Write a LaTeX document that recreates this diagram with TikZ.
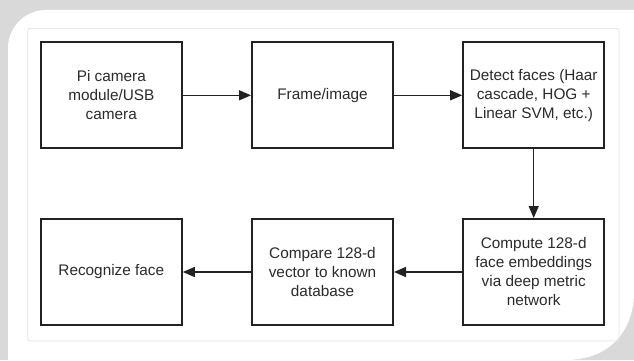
\documentclass[tikz,border=0pt]{standalone}
\usepackage{fontspec}
\setmainfont{Liberation Sans}
\usepackage{tikz}
\usetikzlibrary{arrows.meta}
\definecolor{framegray}{HTML}{D9D9D9}
\definecolor{rimgray}{HTML}{E4E4E4}
\definecolor{boxline}{HTML}{222222}
\definecolor{txtgray}{HTML}{2B2B2B}

\begin{document}
\begin{tikzpicture}[x=0.75pt, y=-0.75pt,
    stage/.style={draw=boxline, line width=1.5pt, fill=white, minimum width=105.75pt,
        minimum height=79.5pt, align=center, text=txtgray,
        font=\fontsize{11.5}{14.25}\selectfont},
    flow/.style={line width=1pt, draw=boxline, -{Triangle[length=9pt,width=7.5pt]}}]
            \useasboundingbox (0,0) rectangle (634,360);
            % frame and page
            \fill [framegray] (0,0) rectangle (634,360);
            \fill [white] (8,360) -- (8,48) arc (180:270:38) -- (634,10) -- (634,292)
                .. controls (634,330) and (610,360) .. (566,360) -- cycle;
            \draw [rimgray, line width=0.6pt, rounded corners=2] (27.7,28.3) rectangle (619,341);
            % stages
            \node [stage] (cam) at (111.3,95.3) {Pi camera\\module/USB\\camera};
            \node [stage] (frame) at (322.5,95.3) {Frame/image};
            \node [stage] (detect) at (533.7,95.3) {Detect faces (Haar\\cascade, HOG +\\Linear SVM, etc.)};
            \node [stage] (embed) at (533.7,272) {Compute 128-d\\face embeddings\\via deep metric\\network};
            \node [stage] (compare) at (322.5,272) {Compare 128-d\\vector to known\\database};
            \node [stage] (recog) at (111.3,272) {Recognize face};
            % arrows
            \draw [flow] (cam) -- (frame);
            \draw [flow] (frame) -- (detect);
            \draw [flow] (detect) -- (embed);
            \draw [flow] (embed) -- (compare);
            \draw [flow] (compare) -- (recog);
        \end{tikzpicture}
\end{document}
